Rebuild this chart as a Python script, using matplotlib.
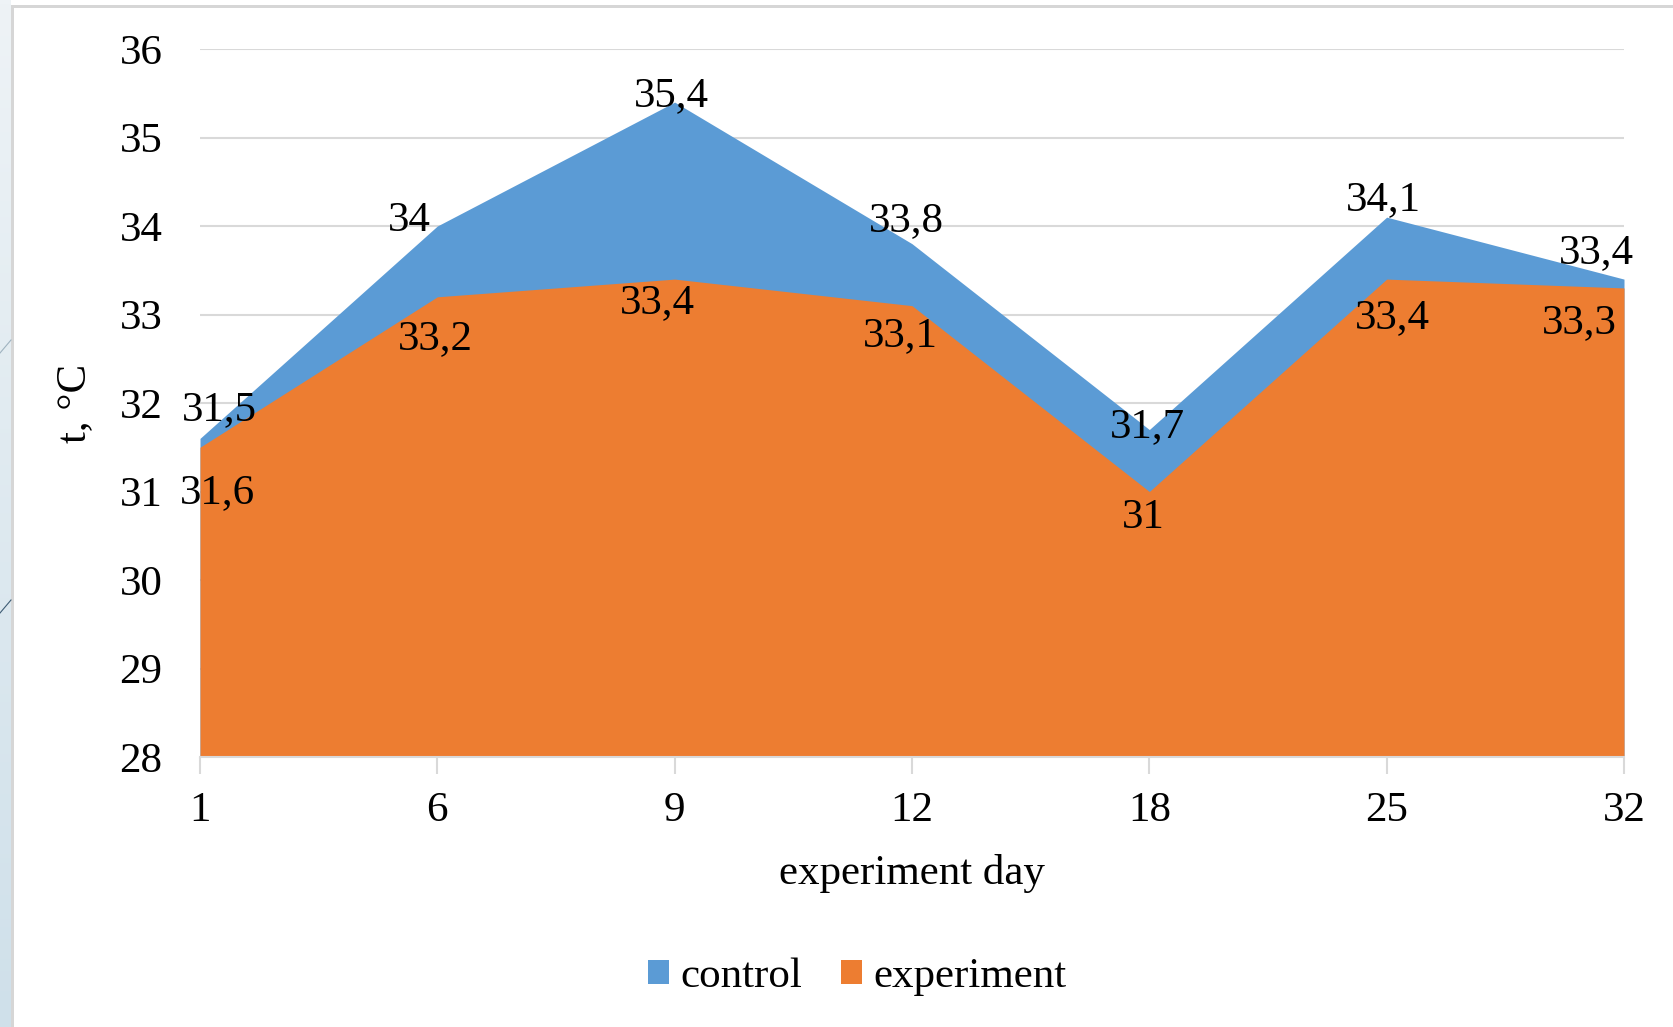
import matplotlib
matplotlib.use("Agg")
import matplotlib.pyplot as plt
from matplotlib.patches import Rectangle, Patch
from matplotlib.lines import Line2D
import numpy as np

# Data
days = ["1", "6", "9", "12", "18", "25", "32"]
control = [31.6, 34.0, 35.4, 33.8, 31.7, 34.1, 33.4]
experiment = [31.5, 33.2, 33.4, 33.1, 31.0, 33.4, 33.3]
y_ticks = [28, 29, 30, 31, 32, 33, 34, 35, 36]

# Label offsets (pixels) relative to each point
control_offsets = [(17, -54), (-28, 5), (-3, 6), (-6, 23), (-2, 3), (-3, 17), (-28, 26)]
experiment_offsets = [(19, 37), (-2, -42), (-17, -24), (-12, -30), (-6, -26), (6, -39), (-45, -35)]

BLUE = "#5B9BD5"
ORANGE = "#ED7D31"
GRID = "#D9D9D9"

plt.rcParams["font.family"] = ["Liberation Serif", "DejaVu Serif"]
FS = 31

W, H = 1673, 1027
fig = plt.figure(figsize=(W / 100, H / 100), dpi=100)
fig.patch.set_facecolor("white")

def px(x0, y0, w, h):
    return (x0 / W, 1 - (y0 + h) / H, w / W, h / H)

# Slide strip on the left with a soft gradient
grad = np.linspace(0, 1, 256).reshape(-1, 1)
strip = fig.add_axes(px(0, 0, 11, H))
strip.imshow(grad, aspect="auto", cmap=matplotlib.colors.LinearSegmentedColormap.from_list(
    "s", ["#EEF3F6", "#CFE0EA"]), extent=(0, 1, 1, 0))
strip.set_axis_off()
# Decorative thin lines on the strip
fig.add_artist(Line2D([0 / W, 11 / W], [1 - 353 / H, 1 - 340 / H], color="#9FB3C0", lw=0.8))
fig.add_artist(Line2D([0 / W, 11 / W], [1 - 613 / H, 1 - 600 / H], color="#3E5C74", lw=0.8))
# Chart frame (left and top borders)
fig.add_artist(Rectangle((11 / W, 0), 3 / W, 1 - 5 / H, transform=fig.transFigure,
                         facecolor="#D6D6D6", edgecolor="none"))
fig.add_artist(Rectangle((11 / W, 1 - 8 / H), 1 - 11 / W, 3 / H, transform=fig.transFigure,
                         facecolor="#D6D6D6", edgecolor="none"))

ax = fig.add_axes([200 / W, 1 - 757 / H, (1624 - 200) / W, (757 - 49) / H])
x = np.arange(len(days))

ax.fill_between(x, y_ticks[0], control, color=BLUE, lw=0, zorder=2, label="control")
ax.fill_between(x, y_ticks[0], experiment, color=ORANGE, lw=0, zorder=3, label="experiment")

ax.set_xlim(0, len(days) - 1)
ax.set_ylim(y_ticks[0], y_ticks[-1])
ax.set_yticks(y_ticks)
ax.set_yticklabels([str(t) for t in y_ticks])
ax.set_xticks(x)
ax.set_xticklabels(days)

ax.yaxis.grid(True, color=GRID, lw=1.5, zorder=1)
ax.set_axisbelow(True)
for s in ["top", "right", "left"]:
    ax.spines[s].set_visible(False)
ax.spines["bottom"].set_color(GRID)
ax.spines["bottom"].set_linewidth(1.5)
ax.spines["bottom"].set_zorder(4)

ax.tick_params(axis="y", length=0, pad=27, labelsize=FS)
ax.tick_params(axis="x", length=12, width=1.5, color=GRID, pad=13, labelsize=FS)

ax.set_xlabel("experiment day", fontsize=FS, labelpad=17)
ax.set_ylabel("t, °C", fontsize=FS, labelpad=18)

for i, v in enumerate(control):
    dx, dy = control_offsets[i]
    ax.annotate(f"{v:g}".replace(".", ","), xy=(x[i], v), xytext=(dx, dy),
                textcoords="offset pixels", ha="center", va="center",
                fontsize=FS, color="black", zorder=6, annotation_clip=False)
for i, v in enumerate(experiment):
    dx, dy = experiment_offsets[i]
    ax.annotate(f"{v:g}".replace(".", ","), xy=(x[i], v), xytext=(dx, dy),
                textcoords="offset pixels", ha="center", va="center",
                fontsize=FS, color="black", zorder=6, annotation_clip=False)

handles = [Patch(facecolor=BLUE, edgecolor="none", label="control"),
           Patch(facecolor=ORANGE, edgecolor="none", label="experiment")]
fig.legend(handles=handles, loc="center", bbox_to_anchor=(857 / W, 1 - 977 / H),
           ncol=2, frameon=False, fontsize=FS, handlelength=0.5, handleheight=0.5,
           handletextpad=0.25, columnspacing=0.9)

fig.savefig("out.png", dpi=100)
